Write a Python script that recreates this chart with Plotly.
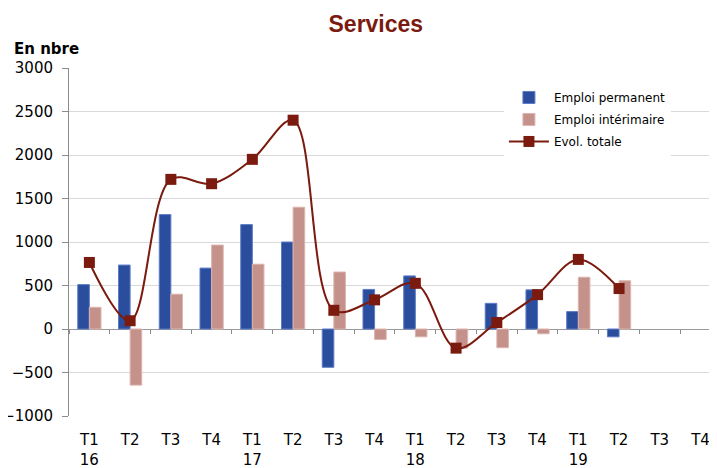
import plotly.graph_objects as go

quarters = ["T1 16", "T2 16", "T3 16", "T4 16",
            "T1 17", "T2 17", "T3 17", "T4 17",
            "T1 18", "T2 18", "T3 18", "T4 18",
            "T1 19", "T2 19", "T3 19", "T4 19"]
tick_labels = ["T1<br>16", "T2", "T3", "T4",
               "T1<br>17", "T2", "T3", "T4",
               "T1<br>18", "T2", "T3", "T4",
               "T1<br>19", "T2", "T3", "T4"]
emploi_permanent = [510, 735, 1315, 700, 1200, 1000, -440, 455, 610, None, 295, 450, 200, -90, None, None]
emploi_interimaire = [250, -645, 400, 965, 745, 1400, 655, -120, -90, -220, -215, -55, 595, 555, None, None]
evol_totale = [765, 95, 1720, 1670, 1950, 2400, 215, 335, 525, -220, 75, 395, 800, 465, None, None]

BLUE = "#2B4D9E"
PINK = "#C4918B"
RED = "#7B1A0E"
FONT = "DejaVu Sans"

fig = go.Figure()
fig.add_trace(go.Bar(x=quarters, y=emploi_permanent, name="Emploi permanent", legendgroup="a",
                     marker=dict(color=BLUE, line=dict(color="#5C7CC4", width=1))))
fig.add_trace(go.Bar(x=quarters, y=emploi_interimaire, name="Emploi intérimaire", legendgroup="b",
                     marker=dict(color=PINK, line=dict(color="#DDB5AF", width=1))))
fig.add_trace(go.Scatter(x=quarters, y=evol_totale, name="Evol. totale", xaxis="x2", legendgroup="c",
                         mode="lines+markers",
                         line=dict(color=RED, width=2, shape="spline", smoothing=1.0),
                         marker=dict(symbol="square", size=11, color=RED),
                         connectgaps=False))

fig.update_layout(
    width=717, height=468,
    margin=dict(l=61, r=0, t=60, b=60, autoexpand=False),
    paper_bgcolor="white", plot_bgcolor="white",
    barmode="group", bargap=0.43, bargroupgap=0,
    font=dict(family=FONT, size=15, color="#000000"),
    title=dict(text="<b>Services</b>", x=0.513, xanchor="center", y=0.966, yanchor="middle",
               font=dict(family="Liberation Sans", size=23, color=RED)),
    xaxis=dict(type="category", categoryorder="array", categoryarray=quarters,
               range=[-0.5, 15.6], tickvals=quarters, ticktext=tick_labels,
               ticks="", showgrid=False, showline=False, zeroline=False, automargin=False,
               ticklabelstandoff=13, tickfont=dict(family=FONT, size=15)),
    xaxis2=dict(type="category", categoryorder="array", categoryarray=quarters,
                overlaying="x", matches="x", anchor="free", position=0.25, side="bottom",
                tickson="boundaries", ticks="outside", ticklen=4, tickcolor="#8C8C8C",
                showticklabels=False, showgrid=False, showline=False, zeroline=False,
                automargin=False),
    yaxis=dict(range=[-1000, 3000], dtick=500, tick0=0, automargin=False,
               showgrid=True, gridcolor="#D9D9D9", gridwidth=1,
               zeroline=True, zerolinecolor="#9A9A9A", zerolinewidth=1,
               showline=True, linecolor="#8C8C8C", linewidth=1,
               ticks="outside", ticklen=6, tickcolor="#8C8C8C", ticklabelstandoff=6,
               tickfont=dict(family=FONT, size=15)),
    legend=dict(x=0.663, y=0.957, xanchor="left", yanchor="top",
                bgcolor="white", font=dict(family=FONT, size=12),
                traceorder="grouped", itemwidth=40, tracegroupgap=3),
    showlegend=True,
)

fig.add_shape(type="rect", xref="paper", yref="y", x0=0.581, x1=1.0, y0=2150, y1=2850,
              fillcolor="white", line=dict(width=0), layer="between")

fig.add_annotation(text="<b>En nbre</b>", xref="paper", yref="paper",
                   x=-0.0869, y=1.0546, xanchor="left", yanchor="middle",
                   showarrow=False, font=dict(family=FONT, size=15, color="#000000"))

fig.write_html("out.html")
